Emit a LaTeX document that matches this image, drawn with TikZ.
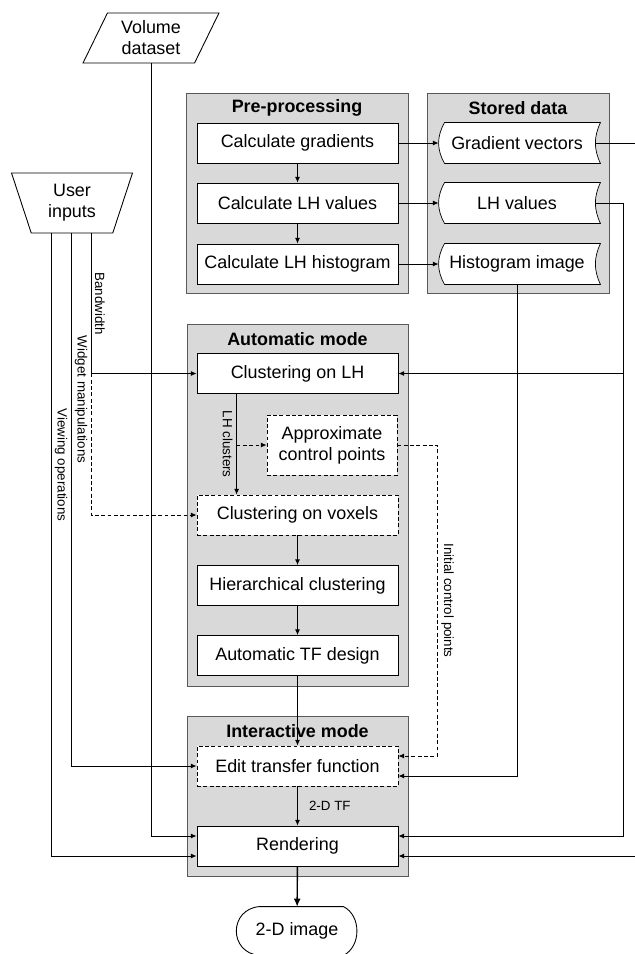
\documentclass[tikz,border=0pt]{standalone}
\usepackage{fontspec}
\setmainfont{Liberation Sans}
\usetikzlibrary{arrows.meta,shapes.geometric,backgrounds}

\begin{document}
\begin{tikzpicture}[x=0.02cm, y=-0.02cm, line width=0.5pt,
        font=\fontsize{10.2}{12}\selectfont,
        group/.style={draw=black!65, fill=black!15, minimum width=4.42cm},
        title/.style={font=\fontsize{10.2}{12}\selectfont\bfseries},
        box/.style={draw, fill=white, minimum width=4.02cm, minimum height=0.8cm},
        tentative/.style={dash pattern=on 2.2pt off 1.4pt},
        store/.style={minimum width=3.12cm, minimum height=0.8cm},
        flow/.style={-{Latex[length=3.2pt,width=2.8pt]}},
        lbl/.style={font=\fontsize{7.6}{9}\selectfont, rotate=-90, inner sep=2pt}]
        \useasboundingbox (0,0) rectangle (635,954);

        % inputs
        \node[draw, trapezium, trapezium stretches body, trapezium left angle=62, trapezium right angle=118,
            minimum width=2.72cm, minimum height=1cm, align=center] (vol) at (151,38) {Volume\\dataset};
        \node[draw, trapezium, trapezium stretches body, trapezium left angle=112, trapezium right angle=112,
            minimum width=2.42cm, minimum height=1.2cm, align=center] (ui) at (72,203) {User\\inputs};
        \coordinate (vo) at ([xshift=-0.42cm]ui.south);
        \coordinate (wm) at ([xshift=-0.02cm]ui.south);
        \coordinate (bw) at ([xshift=0.38cm]ui.south);

        % groups
        \begin{scope}[on background layer]
        \node[group, minimum width=4.44cm, minimum height=4cm] (pre) at (297,193) {};
        \node[group, minimum width=3.64cm, minimum height=4cm] (sto) at (518,193) {};
        \node[group, minimum height=7.24cm] (auto) at (297.5,505) {};
        \node[group, minimum height=3.2cm] (inter) at (297.5,796) {};
        \end{scope}
        \node[title] (pret) at (297,108) {Pre-processing};
        \node[title] (stot) at (518,108) {Stored data};
        \node[title] (autot) at (297.5,339) {Automatic mode};
        \node[title] (intert) at (297.5,731) {Interactive mode};

        \node[box] (cg) at (297.5,143) {Calculate gradients};
        \node[box] (clv) at (297.5,203) {Calculate LH values};
        \node[box] (chist) at (297.5,264) {Calculate LH histogram};

        \node[store] (gv) at (517,143) {Gradient vectors};
        \node[store] (lhv) at (517,203) {LH values};
        \node[store] (hi) at (517,264) {Histogram image};
        \begin{scope}[on background layer]
        \foreach \s in {gv,lhv,hi}
            \draw[fill=white] ([xshift=0.12cm]\s.north west) to[bend right=30] ([xshift=0.12cm]\s.south west)
                -- ([xshift=0.1cm]\s.south east) to[bend left=25] ([xshift=0.1cm]\s.north east) -- cycle;
        \end{scope}

        \node[box] (clh) at (297.5,373.5) {Clustering on LH};
        \node[box, tentative, minimum width=2.6cm, minimum height=1.2cm, align=center] (acp) at (332,445) {Approximate\\control points};
        \node[box, tentative] (cvox) at (297.5,515) {Clustering on voxels};
        \node[box] (hier) at (297.5,585.5) {Hierarchical clustering};
        \node[box] (atf) at (297.5,655.5) {Automatic TF design};

        \node[box, tentative] (etf) at (297.5,766) {Edit transfer function};
        \node[box] (rend) at (297.5,846) {Rendering};
        \node[minimum width=2.4cm, minimum height=0.96cm] (img) at (297,931) {2-D image};
        \draw ([xshift=0.46cm]img.north west) -- ([xshift=-0.28cm]img.north east)
            .. controls +(0.36cm,-0.18cm) and +(0.36cm,0.18cm) .. ([xshift=-0.28cm]img.south east)
            -- ([xshift=0.46cm]img.south west)
            .. controls +(-0.62cm,0.05cm) and +(-0.62cm,-0.05cm) .. ([xshift=0.46cm]img.north west) -- cycle;

        \coordinate (etfR1) at ([yshift=0.2cm]etf.east);
        \coordinate (etfR2) at ([yshift=-0.2cm]etf.east);
        \coordinate (rendL1) at ([yshift=0.2cm]rend.west);
        \coordinate (rendL2) at ([yshift=-0.2cm]rend.west);
        \coordinate (rendR1) at ([yshift=0.2cm]rend.east);
        \coordinate (rendR2) at ([yshift=-0.2cm]rend.east);
        \coordinate (lhc) at ([xshift=0.8cm]clh.south west);

        \draw[flow] (cg) -- (gv);
        \draw[flow] (clv) -- (lhv);
        \draw[flow] (chist) -- (hi);
        \draw[flow] (cg) -- (clv);
        \draw[flow] (clv) -- (chist);
        \draw[flow] (gv.east) -- ++(1cm,0) |- (rendR2);
        \draw[flow] (lhv.east) -- ++(0.56cm,0) |- (rendR1);
        \draw[flow] (lhv.east) -- ++(0.56cm,0) |- (clh);
        \draw[flow] (hi) |- (etfR2);
        \draw[flow, tentative] (acp.east) -- ++(0.8cm,0) |- (etfR1) node[lbl, pos=0.25, above] {Initial control points};

        \draw[flow] (bw) |- (clh) node[lbl, pos=0.25, above] {Bandwidth};
        \draw[flow, tentative] (bw |- clh) |- (cvox);
        \draw[flow] (wm) |- (etf) node[lbl, pos=0.156, above] {Widget manipulations};
        \draw[flow] (vo) |- (rendL2) node[lbl, pos=0.186, above] {Viewing operations};
        \draw[flow] (vol) |- (rendL1);

        \draw[flow] (lhc) -- (lhc |- cvox.north) node[lbl, midway, below] {LH clusters};
        \draw[flow, tentative] (lhc |- acp) -- (acp);
        \draw[flow] (cvox) -- (hier);
        \draw[flow] (hier) -- (atf);
        \draw[flow] (atf) -- (etf);
        \draw[flow] (etf) -- (rend) node[midway, right=3pt, font=\fontsize{7.6}{9}\selectfont] {2-D TF};
        \draw[-{Latex[length=4.5pt,width=4pt]}, line width=0.8pt] (rend) -- (img);
    \end{tikzpicture}
\end{document}
